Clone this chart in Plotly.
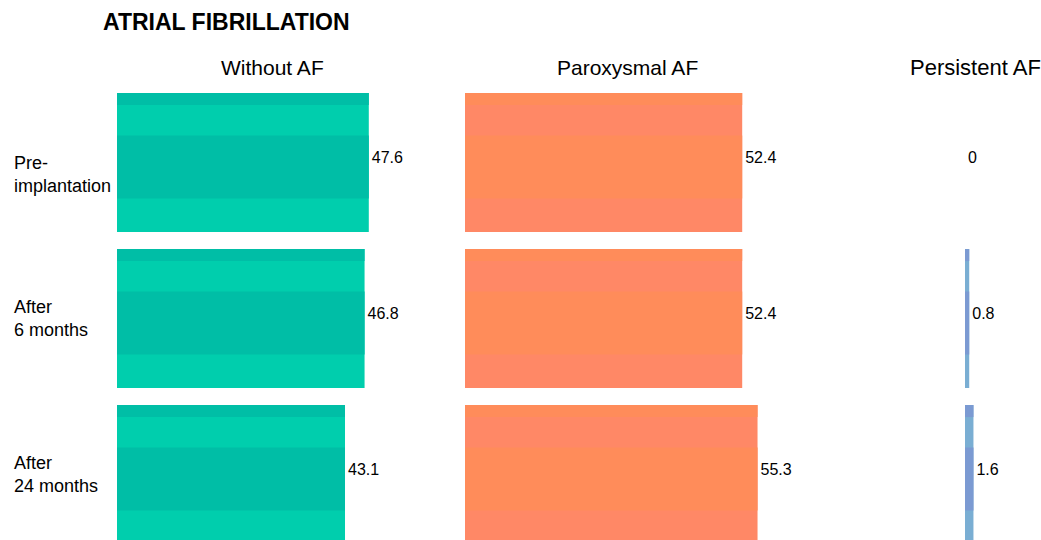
import plotly.graph_objects as go

# ---------------- data ----------------
title_text = "ATRIAL FIBRILLATION"
periods = ["Pre-<br>implantation", "After<br>6 months", "After<br>24 months"]
groups = ["Without AF", "Paroxysmal AF", "Persistent AF"]
without_af = [47.6, 46.8, 43.1]
paroxysmal_af = [52.4, 52.4, 55.3]
persistent_af = [0, 0.8, 1.6]
series = [without_af, paroxysmal_af, persistent_af]

# ---------------- style ----------------
W, H = 1041, 540
FONT = "Liberation Sans, Arial, sans-serif"
SCALE = 5.29  # px per percentage point (same for all columns)
col_px = [(117, 427), (465, 789), (965, 1000)]
title_centers_px = [272, 627, 975]
# two-tone colours: A = darker stripes, B = base colour
palettes = [
    ("#00bea6", "#00cead"),
    ("#ff8c5a", "#ff8866"),
    ("#7b9ad2", "#7aaed3"),
]
BAR_W = 0.89
# darker stripes (start, end) measured from the top of the bar, in category units
stripes = [(0.0, 0.077), (0.272, 0.676)]

ypos = list(range(len(periods)))
fig = go.Figure()

for ci, vals in enumerate(series):
    xa = "x" if ci == 0 else f"x{ci+1}"
    ca, cb = palettes[ci]
    # base bar
    fig.add_trace(go.Bar(
        x=vals, y=ypos, orientation="h",
        offset=-BAR_W / 2, width=BAR_W,
        marker=dict(color=cb, line=dict(width=0)),
        xaxis=xa, yaxis="y", showlegend=False, hoverinfo="skip",
        cliponaxis=False,
    ))
    for s0, s1 in stripes:
        fig.add_trace(go.Bar(
            x=vals, y=ypos, orientation="h",
            offset=-BAR_W / 2 + s0, width=s1 - s0,
            marker=dict(color=ca, line=dict(width=0)),
            xaxis=xa, yaxis="y", showlegend=False, hoverinfo="skip",
            cliponaxis=False,
        ))
    # transparent trace carrying the value labels
    fig.add_trace(go.Bar(
        x=vals, y=ypos, orientation="h",
        offset=-BAR_W / 2 - 0.03, width=BAR_W,
        marker=dict(color="rgba(0,0,0,0)", line=dict(width=0)),
        text=[f"{v:g}" for v in vals], textposition="outside",
        textfont=dict(family=FONT, size=16, color="#000000"),
        xaxis=xa, yaxis="y", showlegend=False, hoverinfo="skip",
        cliponaxis=False,
    ))

layout = dict(
    width=W, height=H,
    margin=dict(l=0, r=0, t=0, b=0),
    paper_bgcolor="white", plot_bgcolor="white",
    barmode="overlay",
    showlegend=False,
    font=dict(family=FONT, color="#000000"),
    title=dict(text=f"<b>{title_text}</b>", x=103 / W, xanchor="left",
               y=1 - 22 / H, yanchor="middle",
               font=dict(family=FONT, size=23, color="#000000")),
    yaxis=dict(domain=[0, 1 - 85 / H], range=[2.42, -0.497],
               showticklabels=False, showgrid=False, zeroline=False,
               showline=False, ticks="", anchor="x"),
)
for ci, (p0, p1) in enumerate(col_px):
    key = "xaxis" if ci == 0 else f"xaxis{ci+1}"
    layout[key] = dict(domain=[p0 / W, p1 / W], range=[0, (p1 - p0) / SCALE],
                       showticklabels=False, showgrid=False, zeroline=False,
                       showline=False, ticks="", anchor="y", fixedrange=True)
fig.update_layout(**layout)

annotations = []
title_sizes = [21, 21, 22]
for gi, g in enumerate(groups):
    annotations.append(dict(text=g, xref="paper", yref="paper",
                            x=title_centers_px[gi] / W, y=1 - 67 / H,
                            xanchor="center", yanchor="middle", showarrow=False,
                            font=dict(family=FONT, size=title_sizes[gi], color="#000000")))
label_shift = [-12, 0, 0]
for pi, p in enumerate(periods):
    annotations.append(dict(text=p, xref="paper", yref="y",
                            x=12 / W, y=ypos[pi], yshift=label_shift[pi],
                            xanchor="left", yanchor="middle", align="left",
                            showarrow=False,
                            font=dict(family=FONT, size=18, color="#000000")))
fig.update_layout(annotations=annotations)

fig.write_html("out.html")
